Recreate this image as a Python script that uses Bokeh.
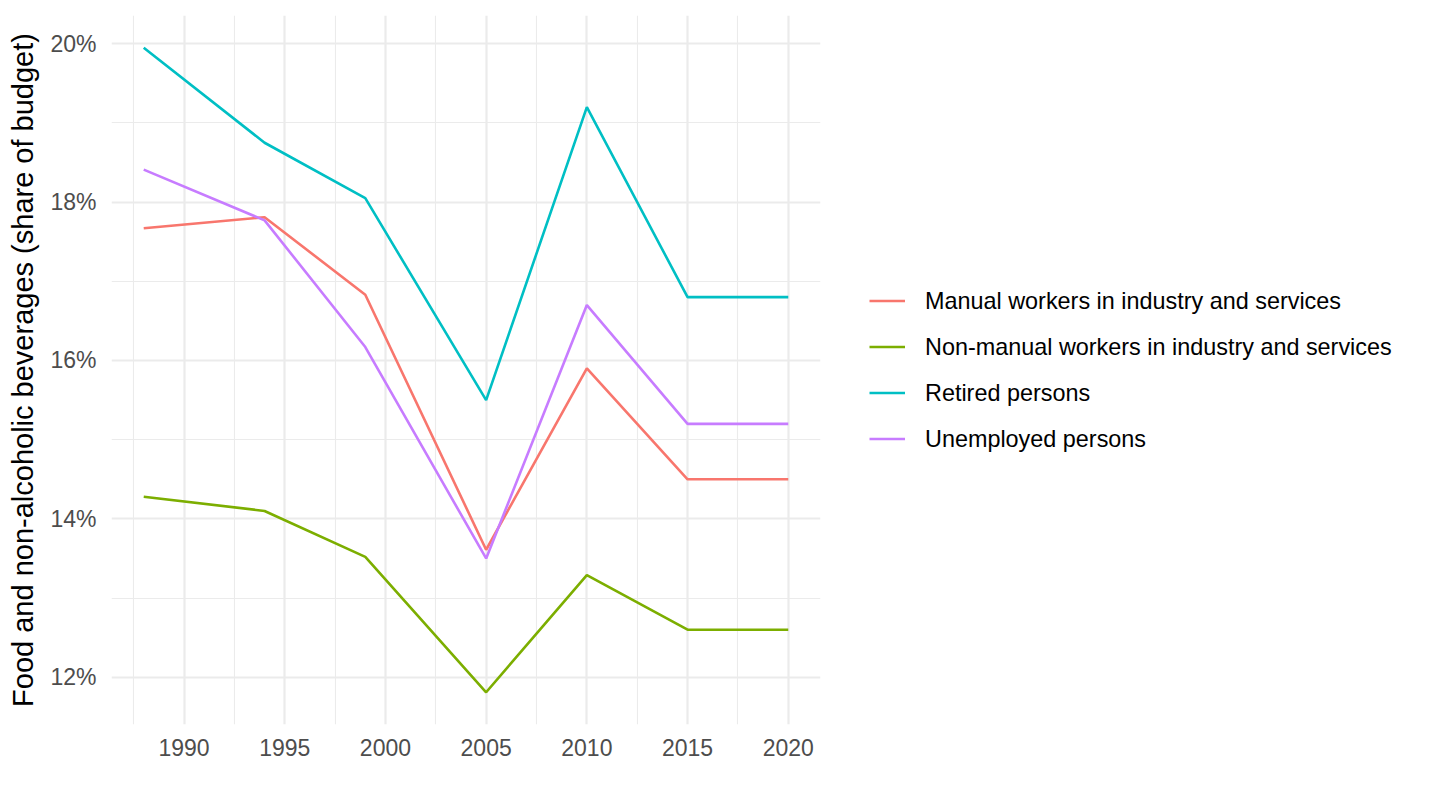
from bokeh.plotting import figure
from bokeh.models import Range1d, FixedTicker, PrintfTickFormatter, Legend, LegendItem
from bokeh.embed import file_html
from bokeh.resources import INLINE

years = [1988, 1994, 1999, 2005, 2010, 2015, 2020]
manual = [17.67, 17.81, 16.83, 13.61, 15.90, 14.50, 14.50]
nonmanual = [14.28, 14.10, 13.52, 11.81, 13.29, 12.60, 12.60]
retired = [19.95, 18.75, 18.05, 15.50, 19.20, 16.80, 16.80]
unemployed = [18.41, 17.77, 16.17, 13.50, 16.70, 15.20, 15.20]

series_names = ["Manual workers in industry and services",
                "Non-manual workers in industry and services",
                "Retired persons",
                "Unemployed persons"]
series_values = [manual, nonmanual, retired, unemployed]
series_colors = ["#F8766D", "#7CAE00", "#00BFC4", "#C77CFF"]

x_major = [1990, 1995, 2000, 2005, 2010, 2015, 2020]
x_minor = [1987.5, 1992.5, 1997.5, 2002.5, 2007.5, 2012.5, 2017.5]
y_major = [12, 14, 16, 18, 20]
y_minor = [13, 15, 17, 19]

FONT = "Liberation Sans"

p = figure(frame_width=709, frame_height=709, output_backend="svg", toolbar_location=None,
           x_range=Range1d(1986.4, 2021.6), y_range=Range1d(11.403, 20.357),
           min_border_left=111, min_border_right=0, min_border_top=15, min_border_bottom=80)
p.outline_line_color = None
p.background_fill_color = "white"
p.border_fill_color = "white"

items = []
for name, vals, col in zip(series_names, series_values, series_colors):
    r = p.line(years, vals, line_color=col, line_width=2.6)
    items.append(LegendItem(label=name, renderers=[r]))

p.xaxis.ticker = FixedTicker(ticks=x_major, minor_ticks=x_minor)
p.yaxis.ticker = FixedTicker(ticks=y_major, minor_ticks=y_minor)
p.yaxis.formatter = PrintfTickFormatter(format="%d%%")

for ax in (p.xaxis, p.yaxis):
    ax.axis_line_color = None
    ax.major_tick_line_color = None
    ax.minor_tick_line_color = None
    ax.major_tick_out = 0
    ax.major_tick_in = 0
    ax.minor_tick_out = 0
    ax.minor_tick_in = 0
    ax.major_label_text_font = FONT
    ax.major_label_text_font_size = "23px"
    ax.major_label_text_color = "#4D4D4D"

p.xaxis.major_label_standoff = 14
p.yaxis.major_label_standoff = 15
p.yaxis.axis_label = "Food and non-alcoholic beverages (share of budget)"
p.yaxis.axis_label_text_font = FONT
p.yaxis.axis_label_text_font_size = "29px"
p.yaxis.axis_label_text_font_style = "normal"
p.yaxis.axis_label_text_color = "black"
p.yaxis.axis_label_standoff = 8

for g in (p.xgrid, p.ygrid):
    g.grid_line_color = "#EBEBEB"
    g.grid_line_width = 2.2
    g.minor_grid_line_color = "#EBEBEB"
    g.minor_grid_line_width = 1.1

legend = Legend(items=items, location="left", orientation="vertical")
legend.label_text_font = FONT
legend.label_text_font_size = "23.4px"
legend.label_text_color = "black"
legend.glyph_width = 36
legend.glyph_height = 20
legend.label_height = 20
legend.label_standoff = 20
legend.spacing = 19
legend.padding = 0
legend.margin = 49
legend.border_line_color = None
legend.background_fill_alpha = 0
p.add_layout(legend, "right")

open("out.html", "w").write(file_html(p, INLINE))
